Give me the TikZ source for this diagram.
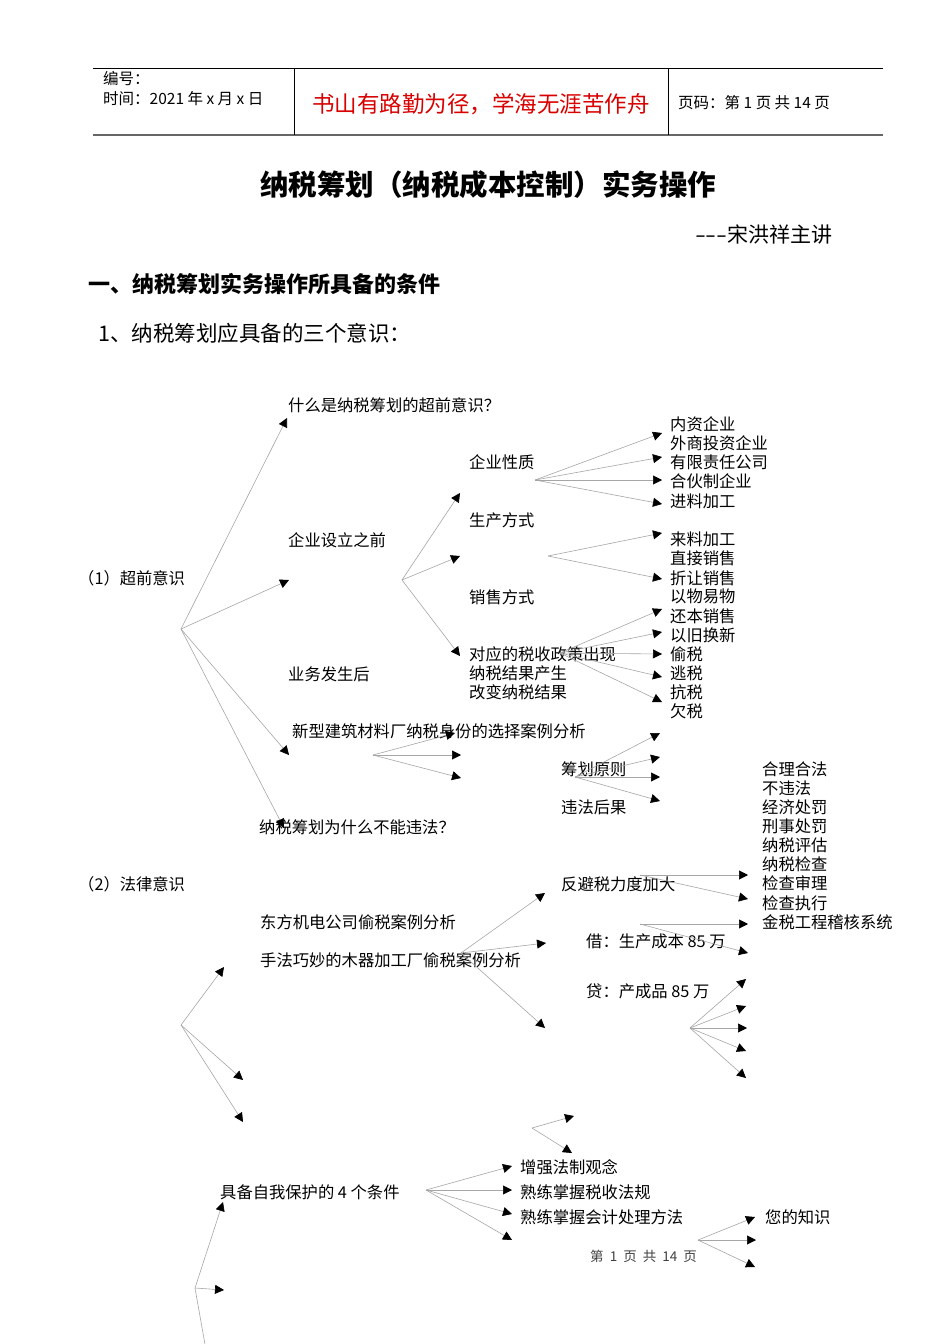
\documentclass[tikz,border=0pt]{standalone}
\usepackage{fontspec}
\setmainfont{Noto Sans CJK SC}
\usetikzlibrary{arrows.meta}
\tikzset{
 arr/.style={draw=black!35,line width=0.6pt,-{Triangle[length=9pt,width=9pt,color=black]}},
 t/.style={anchor=west,inner sep=0pt,font=\fontsize{16.3}{17}\selectfont},
 hd/.style={anchor=west,inner sep=0pt,font=\fontsize{15.5}{16}\selectfont},
}
\newcommand{\fan}[3]{%
 \coordinate (#1) at #2;
 \foreach \a/\b [count=\i] in {#3} {\coordinate (#1-\i) at (\a,\b); \draw[arr] (#1) -- (#1-\i);}}
\begin{document}
\begin{tikzpicture}[x=1pt,y=-1pt]
\useasboundingbox[fill=white] (0,0) rectangle (950,1344);
% header
\draw[line width=0.8pt] (93,68) -- (883,68);
\draw[line width=1.6pt,black!60] (93,135) -- (883,135);
\draw[line width=0.8pt] (294,68) -- (294,135);
\draw[line width=0.8pt] (668,68) -- (668,135);
\node[hd] (bh) at (103,79) {编号：};
\node[hd] (sj) at (103,99) {时间：2021 年 x 月 x 日};
\node[anchor=center,inner sep=0pt,text=red!85!black,font=\fontsize{22.5}{24}\selectfont] (motto) at (481,104) {书山有路勤为径，学海无涯苦作舟};
\node[hd] (ym) at (678,103) {页码：第 1 页\ 共 14 页};
% titles
\node[anchor=center,inner sep=0pt,font=\fontsize{28.5}{30}\selectfont\bfseries] (title) at (488,185) {纳税筹划（纳税成本控制）实务操作};
\node[anchor=east,inner sep=0pt,font=\fontsize{21}{22}\selectfont] (auth) at (833,234) {\scalebox{1.5}[1]{-}\scalebox{1.5}[1]{-}\scalebox{1.5}[1]{-}宋洪祥主讲};
\node[anchor=west,inner sep=0pt,font=\fontsize{22}{24}\selectfont\bfseries] (h1) at (88,284) {一、纳税筹划实务操作所具备的条件};
\node[anchor=west,inner sep=0pt,font=\fontsize{21.5}{23}\selectfont] (h2) at (98,333) {1、纳税筹划应具备的三个意识：};
% texts
\node[t] (n1) at (78,578) {（1）超前意识};
\node[t] (q1) at (288,405) {什么是纳税筹划的超前意识？};
\node[t] (qs) at (288,540) {企业设立之前};
\node[t] (yw) at (288,674) {业务发生后};
\node[t] (xx) at (292,731) {新型建筑材料厂纳税身份的选择案例分析};
\node[t] (wf) at (259,827) {纳税筹划为什么不能违法？};
\node[t] (xz) at (469,462) {企业性质};
\node[t] (sc) at (469,520) {生产方式};
\node[t] (xs) at (469,597) {销售方式};
\node[t] (d1) at (469,654) {对应的税收政策出现};
\node[t] (d2) at (469,673) {纳税结果产生};
\node[t] (d3) at (469,692) {改变纳税结果};
\node[t] (r1) at (670,424) {内资企业};
\node[t] (r2) at (670,443) {外商投资企业};
\node[t] (r3) at (670,462) {有限责任公司};
\node[t] (r4) at (670,481) {合伙制企业};
\node[t] (r5) at (670,501) {进料加工};
\node[t] (r6) at (670,539) {来料加工};
\node[t] (r7) at (670,558) {直接销售};
\node[t] (r8) at (670,578) {折让销售};
\node[t] (r9) at (670,596) {以物易物};
\node[t] (r10) at (670,616) {还本销售};
\node[t] (r11) at (670,635) {以旧换新};
\node[t] (r12) at (670,654) {偷税};
\node[t] (r13) at (670,673) {逃税};
\node[t] (r14) at (670,692) {抗税};
\node[t] (r15) at (670,711) {欠税};
\node[t] (cy) at (561,769) {筹划原则};
\node[t] (wg) at (561,807) {违法后果};
\node[t] (s1) at (762,769) {合理合法};
\node[t] (s2) at (762,788) {不违法};
\node[t] (s3) at (762,807) {经济处罚};
\node[t] (s4) at (762,826) {刑事处罚};
\node[t] (s5) at (762,845) {纳税评估};
\node[t] (s6) at (762,864) {纳税检查};
\node[t] (s7) at (762,883) {检查审理};
\node[t] (s8) at (762,903) {检查执行};
\node[t] (s9) at (762,922) {金税工程稽核系统};
\node[t] (n2) at (78,884) {（2）法律意识};
\node[t] (df) at (260,922) {东方机电公司偷税案例分析};
\node[t] (mq) at (260,960) {手法巧妙的木器加工厂偷税案例分析};
\node[t] (fb) at (561,884) {反避税力度加大};
\node[t] (jie) at (586,941) {借：生产成本 85 万};
\node[t] (dai) at (586,991) {贷：产成品 85 万};
\node[t] (jb) at (220,1192) {具备自我保护的 4 个条件};
\node[t] (z1) at (520,1167) {增强法制观念};
\node[t] (z2) at (520,1192) {熟练掌握税收法规};
\node[t] (z3) at (520,1217) {熟练掌握会计处理方法};
\node[t] (nd) at (765,1217) {您的知识};
\node[anchor=west,inner sep=0pt,text=black!75,font=\fontsize{13.5}{14}\selectfont] (foot) at (590,1256) {第\ \ 1\ \ 页\ \ 共\ \ 14\ \ 页};
% connectors
\fan{A}{(181,629)}{287/418,289/580,289/755,284/828}
\fan{B}{(402,580)}{460/493,460/556,460/656}
\fan{C}{(535,480)}{662/433,662/457,662/480,662/504}
\fan{D}{(548,556)}{662/533,662/579}
\fan{E}{(560,653)}{662/609,662/632,662/654,662/677,662/702}
\fan{F}{(373,755)}{455/733,461/755,461/778}
\fan{G}{(575,777)}{660/733,660/757,660/777,660/801}
\fan{H}{(640,875)}{748/875,748/899}
\fan{I}{(640,924)}{748/924,748/953}
\fan{J}{(690,1028)}{746/979,746/1006,747/1028,746/1051,746/1078}
\fan{K}{(181,1025)}{224/967,243/1080,243/1122}
\fan{L}{(461,953)}{545/893,546/943,545/1028}
\fan{M}{(532,1128)}{574/1116,572/1153}
\fan{N}{(426,1190)}{512/1166,512/1190,512/1214,512/1240}
\fan{O}{(698,1240)}{755/1217,756/1240,755/1267}
\fan{P}{(195,1288)}{223/1202,224/1290}
\coordinate (Pend) at (206,1350);
\draw[draw=black!35,line width=0.6pt] (P) -- (Pend);
\end{tikzpicture}
\end{document}
